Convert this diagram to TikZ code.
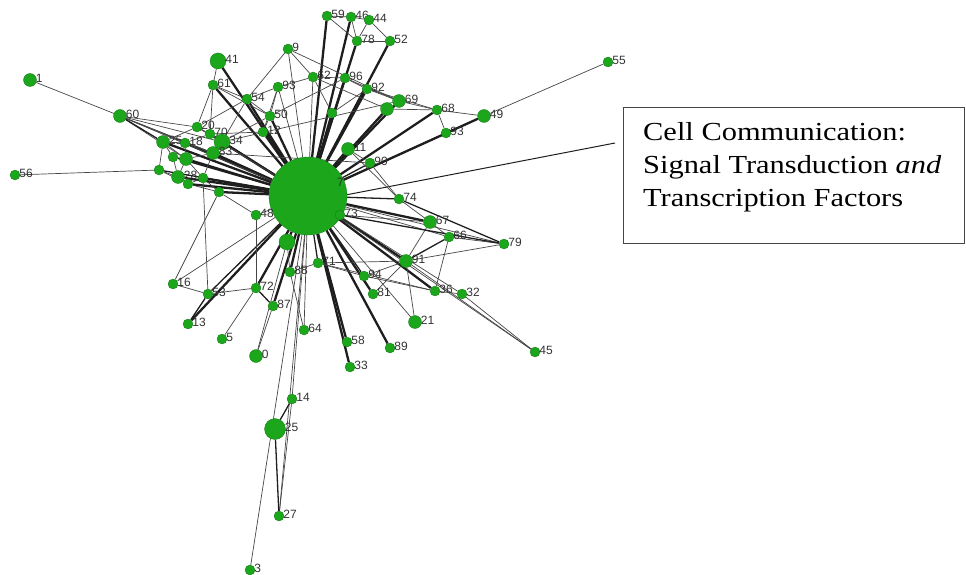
\documentclass[tikz,border=0pt]{standalone}
\usepackage{graphicx}
\usepackage{fontspec}
\setmainfont{Liberation Serif}
\newfontfamily\labfont{Liberation Sans}
\pgfdeclarelayer{bg}
\pgfsetlayers{bg,main}
\definecolor{ng}{RGB}{28,166,28}
\definecolor{ngd}{RGB}{18,120,18}
\definecolor{eg}{RGB}{70,70,70}
\definecolor{ek}{RGB}{30,30,30}
\definecolor{lg}{RGB}{50,50,50}
\tikzset{
  v/.style={circle,fill=ng,draw=ngd,line width=0.3pt,inner sep=0pt,minimum size=10pt},
  vm/.style={v,minimum size=13pt},
  vl/.style={v,minimum size=16pt},
  lab/.style={font=\labfont\fontsize{12}{12}\selectfont,text=lg,inner sep=0.5pt,yshift=2pt,xshift=-1.5pt},
  e/.style={draw=eg,line width=0.7pt},
  em/.style={draw=ek,line width=1.3pt},
  E/.style={draw=ek,line width=2.3pt},
  boxtext/.style={anchor=base west,inner sep=0pt,font=\fontsize{26}{26}\selectfont},
}
\newcommand\vtx[5][v]{\node[#1,label={[lab]0:#5}] (#2) at (#3,#4) {};}
\begin{document}
\begin{tikzpicture}[x=1pt,y=-1pt]
\useasboundingbox (0,0) rectangle (966,575);
% hub
\node[circle,fill=ng,draw=ngd,line width=0.3pt,inner sep=0pt,minimum size=78pt] (h) at (308,196) {};
\node[lab,anchor=west] at (338,184) {7};
% top
\vtx{n59}{327}{16}{59}
\vtx{n46}{351}{17}{46}
\vtx{n44}{369}{20}{44}
\vtx{n78}{357}{41}{78}
\vtx{n52}{390}{41}{52}
\vtx[vl]{n41}{218}{61}{41}
\vtx{n9}{288}{49}{9}
\vtx{n62}{313}{77}{62}
\vtx{n96}{345}{78}{96}
\vtx{n92}{367}{89}{92}
\vtx[vm]{n69}{399}{101}{69}
\vtx[vm]{nA}{387}{109}{}
\vtx{n61}{213}{85}{61}
\vtx{n93a}{278}{87}{93}
\vtx{n54}{247}{99}{54}
\vtx{n50}{270}{116}{50}
\vtx{nB}{332}{113}{}
\vtx{n12}{263}{132}{12}
% left
\vtx[vm]{n1}{30}{80}{1}
\vtx[vm]{n60}{120}{116}{60}
\vtx{n56}{15}{175}{56}
\vtx{n20}{197}{127}{20}
\vtx[vm]{c1}{163}{142}{25}
\vtx{c2}{185}{143}{18}
\vtx{c3}{210}{134}{70}
\vtx[vl]{c4}{222}{142}{34}
\vtx[vm]{c5}{213}{153}{83}
\vtx{c6}{173}{157}{}
\vtx[vm]{c7}{186}{159}{}
\vtx{c8}{159}{170}{}
\vtx[vm]{c9}{178}{177}{28}
\vtx{c10}{188}{184}{}
\vtx{c11}{203}{178}{}
\vtx{c12}{219}{192}{}
% right
\vtx{n55}{608}{62}{55}
\vtx[vm]{n49}{484}{116}{49}
\vtx{n68}{437}{110}{68}
\vtx{n93b}{446}{133}{93}
\vtx[vm]{n11}{348}{149}{11}
\vtx{n90}{370}{163}{90}
\vtx{n74}{399}{199}{74}
\vtx{n73}{340}{215}{73}
\vtx[vm]{n67}{430}{222}{67}
\vtx{n66}{449}{237}{66}
\vtx{n79}{504}{244}{79}
\vtx[vm]{n91}{406}{261}{91}
\vtx{n71}{318}{263}{71}
\vtx{n94}{364}{276}{94}
\vtx{n81}{373}{294}{81}
\vtx{n36}{435}{291}{36}
\vtx{n32}{462}{294}{32}
\vtx[vm]{n21}{415}{322}{21}
\vtx{n89}{390}{348}{89}
\vtx{n45}{535}{352}{45}
% bottom
\vtx{n48}{256}{215}{48}
\vtx[vl]{nC}{287}{242}{}
\vtx{n88}{290}{272}{88}
\vtx{n72}{256}{288}{72}
\vtx{n87}{273}{306}{87}
\vtx{n16}{173}{284}{16}
\vtx{n53}{208}{294}{53}
\vtx{n13}{188}{324}{13}
\vtx{n5}{222}{339}{5}
\vtx[vm]{n0}{256}{356}{0}
\vtx{n64}{304}{330}{64}
\vtx{n58}{347}{342}{58}
\vtx{n33}{350}{367}{33}
\vtx{n14}{292}{399}{14}
\node[v,minimum size=21pt,label={[lab]0:25}] (n25) at (275,429) {};
\vtx{n27}{279}{516}{27}
\vtx{n3}{250}{570}{3}
% label box
\coordinate (hp) at (330,198);
\coordinate (bp) at (615,143);
\draw[draw=eg,line width=0.9pt] (623,107) rectangle (964,243);
\node[boxtext] (t1) at (643,141) {\scalebox{1.17}[1]{Cell Communication:}};
\node[boxtext] (t2) at (643,173) {\scalebox{1.17}[1]{Signal Transduction \textit{and}}};
\node[boxtext] (t3) at (643,206) {\scalebox{1.17}[1]{Transcription Factors}};
\begin{pgfonlayer}{bg}
\draw[draw=ek,line width=1pt] (hp) -- (bp);
% thick spokes
\foreach \b in {n59,n46,n78,n52,n41,n61,n54,n96,nB,n92,n69,nA,n11,n49,n68,n67,n91,n36,n81,n89,n58,n33,n88,n87,n72,n13,nC,n50,n12,c1,c2,c4,c5,c7,c9,c10,c11,c12,c3}
  \draw[E] (h) -- (\b);
% medium spokes
\foreach \b in {n93b,n74,n71,n94,n90,c6,c8,n53}
  \draw[em] (h) -- (\b);
% thin spokes
\foreach \b in {n9,n62,n93a,n16,n64,n14,n27,n3,n21,n45,n66,n32,n48,n20,n60,n79}
  \draw[e] (h) -- (\b);
% thin others
\foreach \a/\b in {n59/n46,n46/n44,n44/n52,n46/n78,n59/n78,n78/n52,n44/n78,n9/n54,n9/n69,n9/n62,
  n41/n61,n61/n20,n61/n54,n61/n50,n61/c3,n54/n93a,n54/n50,n54/n20,n93a/n62,n93a/n50,n62/n96,n62/nA,
  n96/n92,n96/n69,n92/n69,n92/n68,n69/n68,nA/n68,n68/n49,n68/n93b,n49/n55,n11/n74,n11/n90,
  n74/n67,n67/n66,n66/n79,n91/n79,n91/n67,n71/n91,n94/n91,n71/n36,n36/n32,n32/n45,n91/n45,
  n94/n36,n91/n21,n16/n53,n53/n72,n72/n5,n87/n0,n71/n88,n88/nC,n14/n27,n73/n67,n74/n90,
  n1/c5,n56/c8,n60/c2,n60/n20,n60/c4,n60/c5,n60/c7,n20/c3,n20/c4,n20/c1,c3/n12,c4/n50,c4/n54,
  c1/c2,c1/c6,c1/c8,c2/c3,c2/c7,c3/c4,c4/c5,c5/c7,c6/c7,c6/c9,c7/c9,c8/c9,c9/c10,c10/c11,c11/c5,
  c11/c12,c12/c10,c7/c11,c2/c5,c1/c7,c8/c10,c4/n69,c5/n90,c12/n48,n48/n72,n16/c12,n53/c11,nB/n92,nB/n62,
  n12/n50,n12/n93a,n50/n96,n71/n94,n81/n91,n36/n66,n0/nC,n64/n88}
  \draw[e] (\a) -- (\b);
\foreach \a/\b in {n25/n14,n25/n27,n53/n13,n72/n87,n73/n79,n93b/n49,n74/n79,n60/c1,n91/n66}
  \draw[em] (\a) -- (\b);
\end{pgfonlayer}
\end{tikzpicture}
\end{document}
